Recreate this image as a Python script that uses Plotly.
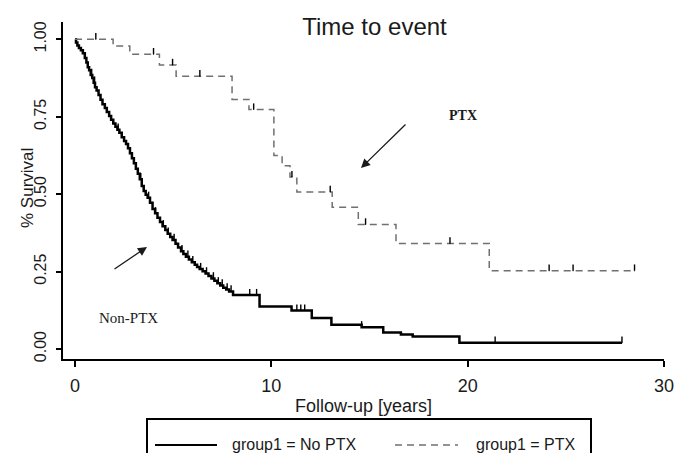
import numpy as np
import plotly.graph_objects as go

# ---------------- data ----------------
nonptx_time = [0, 0.05, 0.12, 0.20, 0.30, 0.40, 0.50, 0.58, 0.65, 0.72, 0.80, 0.88, 0.95,
               1.02, 1.10, 1.20, 1.30, 1.40, 1.52, 1.62, 1.74, 1.84, 1.95, 2.06, 2.16, 2.26,
               2.38, 2.50, 2.60, 2.70, 2.80, 2.90, 3.00, 3.10, 3.20, 3.30, 3.40, 3.50, 3.60,
               3.70, 3.82, 3.95, 4.08, 4.20, 4.33, 4.46, 4.60, 4.72, 4.85, 4.97, 5.12, 5.25,
               5.40, 5.52, 5.65, 5.80, 5.95, 6.10, 6.22, 6.35, 6.50, 6.65, 6.80, 6.95, 7.10,
               7.25, 7.40, 7.55, 7.70, 7.85, 8.05, 9.40, 11.03, 12.06, 13.06, 14.60, 15.70,
               16.60, 17.20, 19.58, 27.86]
nonptx_surv = [1.000, 0.990, 0.980, 0.972, 0.965, 0.955, 0.940, 0.925, 0.910, 0.900, 0.885,
               0.875, 0.860, 0.845, 0.835, 0.820, 0.805, 0.790, 0.778, 0.765, 0.752, 0.740,
               0.728, 0.718, 0.708, 0.698, 0.684, 0.672, 0.662, 0.648, 0.632, 0.616, 0.600,
               0.582, 0.566, 0.548, 0.526, 0.510, 0.498, 0.488, 0.472, 0.452, 0.438, 0.424,
               0.410, 0.396, 0.384, 0.372, 0.362, 0.352, 0.340, 0.328, 0.316, 0.307, 0.298,
               0.289, 0.280, 0.272, 0.265, 0.258, 0.251, 0.244, 0.236, 0.228, 0.220, 0.212,
               0.205, 0.198, 0.192, 0.186, 0.174, 0.137, 0.124, 0.100, 0.078, 0.070, 0.053,
               0.047, 0.040, 0.020, 0.020]
nonptx_censor = [0.85, 1.00, 2.20, 3.35, 3.75, 4.10, 4.50, 4.75, 5.05, 5.45, 5.75, 6.00, 6.40,
                 6.70, 7.05, 7.30, 7.50, 7.75, 7.95, 8.90, 9.25, 11.30, 11.50, 11.70, 14.60,
                 21.40, 27.86]

ptx_time = [0, 1.94, 2.79, 4.30, 5.15, 8.00, 8.86, 10.13, 10.55, 10.95, 11.30, 13.10, 14.43,
            16.35, 21.10, 28.50]
ptx_surv = [1.000, 0.978, 0.952, 0.917, 0.881, 0.806, 0.773, 0.625, 0.592, 0.555, 0.507,
            0.458, 0.402, 0.341, 0.253, 0.253]
ptx_censor = [1.06, 4.00, 4.97, 6.36, 9.10, 11.05, 13.00, 14.80, 19.10, 24.15, 25.37, 28.50]

x_ticks = [0, 10, 20, 30]
y_ticks = [0, 0.25, 0.5, 0.75, 1.0]
y_ticktext = ["0.00", "0.25", "0.50", "0.75", "1.00"]

group_labels = ["group1 = No PTX", "group1 = PTX"]


def surv_at(times, surv, t):
    idx = np.searchsorted(np.asarray(times), np.asarray(t), side="right") - 1
    return list(np.asarray(surv)[idx])


# ---------------- figure ----------------
W, H = 676, 453
ML, MR, MT, MB = 63, 12, 22, 94
PW, PH = W - ML - MR, H - MT - MB
X0_PX, X_PER = 75.0, (W - MR - 75.0) / 30.0      # pixel of t=0 and pixels per year
Y1_PX, Y_PER = 39.3, 309.7                        # pixel of S=1 and pixels per unit

FONT = "Liberation Sans, Arial, sans-serif"
SERIF = "Liberation Serif, Times New Roman, serif"
TXT = "#1a1a1a"
PTX_COLOR = "#707070"
PTX_DASH = "7px,5px"


def px2paper_x(px):
    return (px - ML) / PW


def px2paper_y(py):
    return (H - MB - py) / PH


fig = go.Figure()

fig.add_trace(go.Scatter(x=nonptx_time, y=nonptx_surv, mode="lines", line_shape="hv",
                         line=dict(color="black", width=2.5), name=group_labels[0],
                         showlegend=False))
fig.add_trace(go.Scatter(x=ptx_time, y=ptx_surv, mode="lines", line_shape="hv",
                         line=dict(color=PTX_COLOR, width=1.5, dash=PTX_DASH),
                         name=group_labels[1], showlegend=False))

# censoring ticks (small vertical marks rising from the curve)
for ctimes, times, surv in [(nonptx_censor, nonptx_time, nonptx_surv),
                            (ptx_censor, ptx_time, ptx_surv)]:
    fig.add_trace(go.Scatter(
        x=ctimes, y=surv_at(times, surv, ctimes), mode="markers",
        marker=dict(size=1, color="black"),
        error_y=dict(type="constant", value=0.02, valueminus=0, symmetric=False,
                     width=0, thickness=1.4, color="black"),
        showlegend=False, hoverinfo="skip"))

x_range = [(ML - X0_PX) / X_PER, 30.0 + 0.001]
y_range = [1 - (H - MB - Y1_PX) / Y_PER, 1 + (Y1_PX - MT) / Y_PER]

fig.update_layout(
    width=W, height=H,
    margin=dict(l=ML, r=MR, t=MT, b=MB, pad=0),
    paper_bgcolor="white", plot_bgcolor="white",
    showlegend=False,
    font=dict(family=FONT, color=TXT),
    title=dict(text="Time to event", x=374.5 / W, y=1 - 26.5 / H, xref="container",
               yref="container", xanchor="center", yanchor="middle",
               font=dict(size=24, family=FONT, color=TXT)),
    xaxis=dict(range=x_range, tickvals=x_ticks, ticks="outside", ticklen=6, tickwidth=1.5,
               tickcolor="black", showline=True, linecolor="black", linewidth=1.6,
               showgrid=False, zeroline=False, tickfont=dict(size=18, family=FONT),
               ticklabelstandoff=4, ticklabeloverflow="allow", automargin=False,
               title=dict(text="Follow-up [years]", font=dict(size=18, family=FONT),
                          standoff=4)),
    yaxis=dict(range=y_range, tickvals=y_ticks, ticktext=y_ticktext, tickangle=-90,
               ticks="outside", ticklen=5, tickwidth=1.5, tickcolor="black",
               showline=True, linecolor="black", linewidth=1.6, showgrid=False,
               zeroline=False, tickfont=dict(size=16, family=FONT), ticklabelstandoff=4,
               automargin=False),
)

# y-axis title
fig.add_annotation(xref="paper", yref="paper", x=px2paper_x(27), y=px2paper_y(188),
                   text="% Survival", textangle=-90, showarrow=False,
                   xanchor="center", yanchor="middle",
                   font=dict(size=17, family=FONT, color=TXT))


def t_of(px):
    return (px - X0_PX) / X_PER


def s_of(py):
    return 1 - (py - Y1_PX) / Y_PER


# group labels and arrows
fig.add_annotation(x=t_of(463), y=s_of(115), text="<b>PTX</b>", showarrow=False,
                   font=dict(family=SERIF, size=14, color=TXT))
fig.add_annotation(x=t_of(128.5), y=s_of(318), text="Non-PTX", showarrow=False,
                   font=dict(family=SERIF, size=15, color=TXT))
fig.add_annotation(x=t_of(361), y=s_of(168), text="", showarrow=True, ax=46, ay=-45,
                   arrowhead=2, arrowsize=1.4, arrowwidth=1.3, arrowcolor=TXT,
                   standoff=0)
fig.add_annotation(x=t_of(147), y=s_of(247), text="", showarrow=True, ax=-34, ay=23,
                   arrowhead=2, arrowsize=1.4, arrowwidth=1.3, arrowcolor=TXT,
                   standoff=0)

# legend box (bottom, partly cut off as in the original)
fig.add_shape(type="rect", xref="paper", yref="paper",
              x0=px2paper_x(147), x1=px2paper_x(591), y0=px2paper_y(419), y1=px2paper_y(475),
              line=dict(color="black", width=2), fillcolor="rgba(0,0,0,0)")
fig.add_shape(type="line", xref="paper", yref="paper",
              x0=px2paper_x(155), x1=px2paper_x(217), y0=px2paper_y(445), y1=px2paper_y(445),
              line=dict(color="black", width=2))
fig.add_shape(type="line", xref="paper", yref="paper",
              x0=px2paper_x(395), x1=px2paper_x(458), y0=px2paper_y(445), y1=px2paper_y(445),
              line=dict(color=PTX_COLOR, width=1.5, dash=PTX_DASH))
fig.add_annotation(xref="paper", yref="paper", x=px2paper_x(230), y=px2paper_y(444),
                   text=group_labels[0], showarrow=False, xanchor="left", yanchor="middle",
                   font=dict(size=16, family=FONT, color=TXT))
fig.add_annotation(xref="paper", yref="paper", x=px2paper_x(474), y=px2paper_y(444),
                   text=group_labels[1], showarrow=False, xanchor="left", yanchor="middle",
                   font=dict(size=16, family=FONT, color=TXT))

fig.write_html("out.html", config={"displayModeBar": False},
               post_script="document.body.style.margin='0';document.body.style.overflow='hidden';")
